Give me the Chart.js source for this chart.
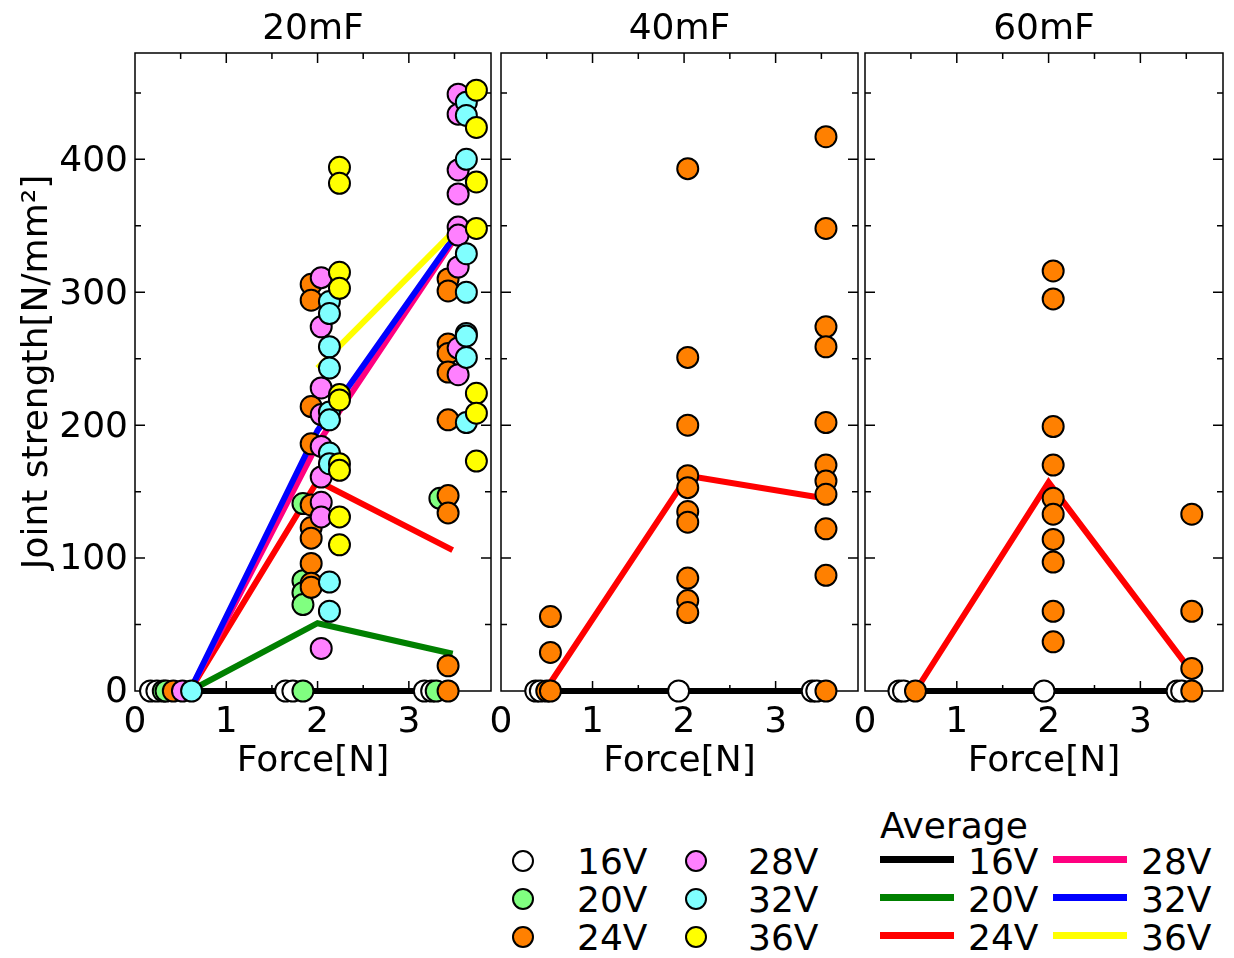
<!DOCTYPE html>
<html>
<head>
<meta charset="utf-8">
<script src="https://cdn.jsdelivr.net/npm/chart.js@4.4.0/dist/chart.umd.min.js"></script>
<style>
  body { margin: 0; background: #fff; }
  #wrap { position: relative; width: 1234px; height: 958px; font-family: 'DejaVu Sans', sans-serif; }
  #wrap canvas { position: absolute; top: 0; }
  .lg { position: absolute; font-size: 36px; line-height: 40px; height: 40px; white-space: nowrap; color: #000; }
  .dot { position: absolute; width: 18px; height: 18px; border: 2px solid #000; border-radius: 50%; }
  .bar { position: absolute; width: 74px; height: 7px; }
</style>
</head>
<body>
<div id="wrap">
  <canvas id="c20" width="500" height="800" style="left:0"></canvas>
  <canvas id="c40" width="390" height="800" style="left:477px"></canvas>
  <canvas id="c60" width="390" height="800" style="left:841px"></canvas>
  <div id="legend"></div>
</div>
<script>
Chart.defaults.font.family = "'DejaVu Sans', sans-serif";
Chart.defaults.color = '#000';

const voltages = ['16V', '20V', '24V', '28V', '32V', '36V'];
const markerColors = ['#ffffff', '#80ff80', '#ff8000', '#ff80ff', '#80ffff', '#ffff00'];
const lineColors = ['#000000', '#008000', '#ff0000', '#ff0080', '#0000ff', '#ffff00'];

// 20mF specimens, [force, joint strength]
const s20_16V = [[0.17, 0], [0.24, 0], [1.65, 0], [1.73, 0], [3.17, 0], [3.25, 0]];
const s20_20V = [[0.31, 0], [0.34, 0], [1.84, 141], [1.84, 83], [1.84, 74], [1.84, 65], [1.84, 0],
  [3.30, 0], [3.34, 145]];
const s20_24V = [[0.42, 0], [1.93, 306], [1.93, 294], [1.93, 214], [1.93, 186], [1.93, 140], [1.93, 123],
  [1.93, 115], [1.93, 96], [1.93, 81], [1.93, 78], [3.43, 310], [3.43, 301], [3.43, 261], [3.43, 254],
  [3.43, 240], [3.43, 204], [3.43, 147], [3.43, 134], [3.43, 19], [3.43, 0]];
const s20_28V = [[0.52, 0], [2.04, 311], [2.04, 274], [2.04, 228], [2.04, 208], [2.04, 184], [2.04, 161],
  [2.04, 142], [2.04, 131], [2.04, 32], [3.54, 449], [3.54, 434], [3.54, 392], [3.54, 374], [3.54, 349],
  [3.54, 343], [3.54, 319], [3.54, 258], [3.54, 238]];
const s20_32V = [[0.62, 0], [2.13, 293], [2.13, 284], [2.13, 259], [2.13, 243], [2.13, 210], [2.13, 204],
  [2.13, 179], [2.13, 171], [2.13, 82], [2.13, 60], [3.63, 443], [3.63, 433], [3.63, 400], [3.63, 329],
  [3.63, 300], [3.63, 269], [3.63, 267], [3.63, 251], [3.63, 202]];
const s20_36V = [[2.24, 394], [2.24, 382], [2.24, 315], [2.24, 303], [2.24, 223], [2.24, 219], [2.24, 171],
  [2.24, 166], [2.24, 131], [2.24, 110], [3.74, 452], [3.74, 424], [3.74, 383], [3.74, 348], [3.74, 224],
  [3.74, 209], [3.74, 173]];

// 20mF averages
const avgForce20 = [0.6, 2.0, 3.48];
const avg20_16V = [0, 0, 0];
const avg20_20V = [0, 51, 28];
const avg20_24V = [0, 158, 106];
const avg20_28V = [0, 186, 338];
const avg20_32V = [0, 196, 340];
const avg20_36V = [null, 243, 345];

// 40mF
const s40_16V = [[0.38, 0], [0.43, 0], [1.94, 0], [3.40, 0], [3.45, 0]];
const s40_24V = [[0.50, 0], [0.54, 0], [0.54, 29], [0.54, 56], [2.04, 393], [2.04, 251], [2.04, 200],
  [2.04, 162], [2.04, 153], [2.04, 135], [2.04, 127], [2.04, 85], [2.04, 68], [2.04, 59], [3.55, 417],
  [3.55, 348], [3.55, 274], [3.55, 259], [3.55, 202], [3.55, 170], [3.55, 158], [3.55, 148], [3.55, 122],
  [3.55, 87], [3.55, 0]];
const avgForce40 = [0.48, 2.04, 3.53];
const avg40_16V = [0, 0, 0];
const avg40_24V = [0, 162, 145];

// 60mF
const s60_16V = [[0.37, 0], [0.42, 0], [1.95, 0], [3.40, 0], [3.45, 0]];
const s60_24V = [[0.55, 0], [2.05, 316], [2.05, 295], [2.05, 199], [2.05, 170], [2.05, 145], [2.05, 133],
  [2.05, 114], [2.05, 97], [2.05, 60], [2.05, 37], [3.56, 133], [3.56, 60], [3.56, 17], [3.56, 0]];
const avgForce60 = [0.55, 2.0, 3.53];
const avg60_16V = [0, 0, 0];
const avg60_24V = [0, 157, 17];

// plot frame plus inward ticks on all four sides
const frameTicks = {
  id: 'frameTicks',
  beforeDatasetsDraw(chart) {
    const { ctx, chartArea: a, scales: { x, y } } = chart;
    ctx.save();
    ctx.strokeStyle = '#000';
    ctx.lineWidth = 1.5;
    ctx.strokeRect(a.left, a.top, a.right - a.left, a.bottom - a.top);
    ctx.beginPath();
    for (let v = 0.5; v < x.max; v += 0.5) {
      const px = x.getPixelForValue(v);
      const len = v % 1 === 0 ? 10 : 6;
      ctx.moveTo(px, a.bottom); ctx.lineTo(px, a.bottom - len);
      ctx.moveTo(px, a.top); ctx.lineTo(px, a.top + len);
    }
    for (let v = 50; v < y.max; v += 50) {
      const py = y.getPixelForValue(v);
      const len = v % 100 === 0 ? 10 : 6;
      ctx.moveTo(a.left, py); ctx.lineTo(a.left + len, py);
      ctx.moveTo(a.right, py); ctx.lineTo(a.right - len, py);
    }
    ctx.stroke();
    ctx.restore();
  }
};

function makePanel(id, title, specimens, avgForce, averages, first, padRight) {
  const datasets = [];
  averages.forEach((ys, i) => {
    if (!ys) return;
    datasets.push({
      label: 'Average ' + voltages[i],
      data: avgForce.map((x, k) => ({ x, y: ys[k] })),
      showLine: true,
      borderColor: lineColors[i],
      borderWidth: 6,
      borderJoinStyle: 'miter',
      pointRadius: 0,
      clip: false,
      order: 20 - i
    });
  });
  specimens.forEach((pts, i) => {
    if (!pts) return;
    datasets.push({
      label: voltages[i],
      data: pts.map(([x, y]) => ({ x, y })),
      backgroundColor: markerColors[i],
      borderColor: '#000',
      borderWidth: 2,
      pointRadius: 10.5,
      clip: false,
      order: 10 - i
    });
  });

  new Chart(document.getElementById(id), {
    type: 'scatter',
    data: { datasets },
    options: {
      responsive: false,
      animation: false,
      events: [],
      layout: { autoPadding: false, padding: { top: 0, left: 0, right: padRight, bottom: 17 } },
      plugins: {
        legend: { display: false },
        tooltip: { enabled: false },
        title: {
          display: true, text: title, fullSize: false,
          font: { size: 36, weight: 'normal' },
          padding: { top: 8, bottom: 1.8 }
        }
      },
      scales: {
        x: {
          min: 0, max: 3.9,
          grid: { display: false, drawTicks: false },
          border: { display: false },
          ticks: { stepSize: 1, includeBounds: false, padding: 10, maxRotation: 0, font: { size: 36 } },
          title: { display: true, text: 'Force[N]', font: { size: 36 }, padding: 0 },
          afterFit: s => { s.height = 92; }
        },
        y: {
          min: 0, max: 480,
          grid: { display: false, drawTicks: false },
          border: { display: false },
          ticks: {
            display: first, stepSize: 100, includeBounds: false, padding: 7, labelOffset: 2,
            font: { size: 36 }
          },
          title: {
            display: first, text: 'Joint strength[N/mm²]', font: { size: 36 },
            padding: { top: 16, bottom: 0 }
          },
          afterFit: s => { s.width = first ? 135 : 24; }
        }
      }
    },
    plugins: [frameTicks]
  });
}

makePanel('c20', '20mF',
  [s20_16V, s20_20V, s20_24V, s20_28V, s20_32V, s20_36V], avgForce20,
  [avg20_16V, avg20_20V, avg20_24V, avg20_28V, avg20_32V, avg20_36V], true, 9);
makePanel('c40', '40mF',
  [s40_16V, null, s40_24V, null, null, null], avgForce40,
  [avg40_16V, null, avg40_24V, null, null, null], false, 9);
makePanel('c60', '60mF',
  [s60_16V, null, s60_24V, null, null, null], avgForce60,
  [avg60_16V, null, avg60_24V, null, null, null], false, 8);

// legend: markers on the left, average lines on the right
const legend = document.getElementById('legend');
const rowY = [861, 899, 937];
function addText(txt, left, cy) {
  const el = document.createElement('div');
  el.className = 'lg';
  el.textContent = txt;
  el.style.left = left + 'px';
  el.style.top = (cy - 19) + 'px';
  legend.appendChild(el);
}
addText('Average', 880, 825);
voltages.forEach((v, i) => {
  const col = Math.floor(i / 3), row = i % 3;
  const dot = document.createElement('div');
  dot.className = 'dot';
  dot.style.left = (col ? 685 : 512) + 'px';
  dot.style.top = (rowY[row] - 11) + 'px';
  dot.style.background = markerColors[i];
  legend.appendChild(dot);
  addText(v, col ? 748 : 577, rowY[row]);

  const bar = document.createElement('div');
  bar.className = 'bar';
  bar.style.left = (col ? 1053 : 880) + 'px';
  bar.style.top = (rowY[row] - 5.5) + 'px';
  bar.style.background = lineColors[i];
  legend.appendChild(bar);
  addText(v, col ? 1141 : 968, rowY[row]);
});
</script>
</body>
</html>
